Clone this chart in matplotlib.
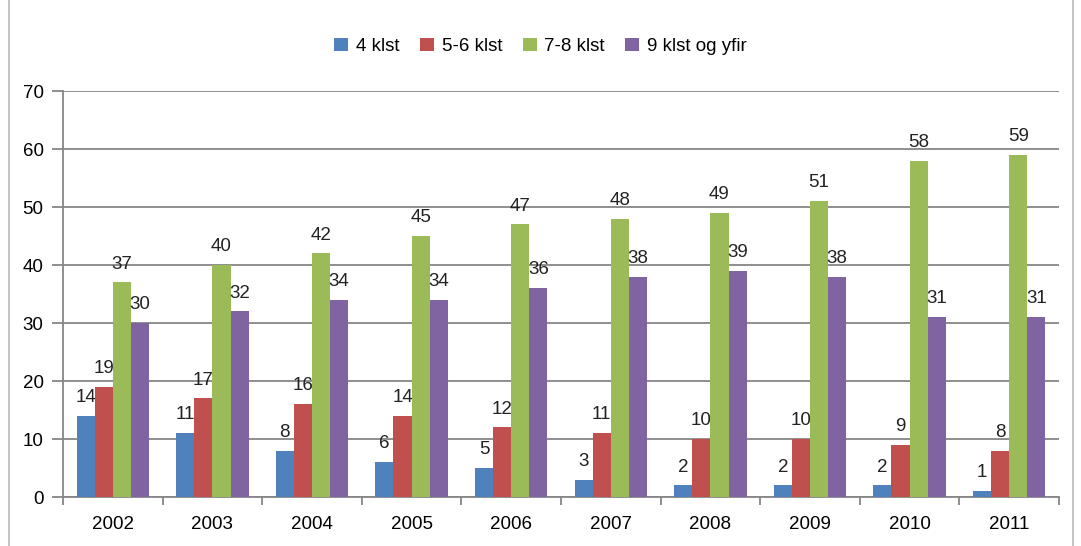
import matplotlib.pyplot as plt
import numpy as np

years = ['2002', '2003', '2004', '2005', '2006', '2007', '2008', '2009', '2010', '2011']
klst_4 = [14, 11, 8, 6, 5, 3, 2, 2, 2, 1]
klst_56 = [19, 17, 16, 14, 12, 11, 10, 10, 9, 8]
klst_78 = [37, 40, 42, 45, 47, 48, 49, 51, 58, 59]
klst_9 = [30, 32, 34, 34, 36, 38, 39, 38, 31, 31]
series_names = ['4 klst', '5-6 klst', '7-8 klst', '9 klst og yfir']

plt.rcParams['font.family'] = ['Liberation Sans', 'DejaVu Sans']
colors = ['#4F81BD', '#C0504D', '#9BBB59', '#8064A2']
grey = '#868686'

fig = plt.figure(figsize=(10.81, 5.46), dpi=100)
ax = fig.add_axes([63 / 1081, 1 - 497 / 546, (1059 - 63) / 1081, (497 - 91) / 546])

pos = np.arange(len(years))
width = 0.182
allvals = [klst_4, klst_56, klst_78, klst_9]
for i, (vals, name) in enumerate(zip(allvals, series_names)):
    x = pos + (i - 1.5) * width
    bars = ax.bar(x, vals, width, color=colors[i], label=name, zorder=3)
    for rect, v in zip(bars, vals):
        ax.annotate('%d' % v, (rect.get_x() + rect.get_width() / 2, rect.get_height()),
                    xytext=(0, 7), textcoords='offset points',
                    ha='center', va='bottom', fontsize=13.5, color='#222222')

ax.set_xlim(-0.5, len(years) - 0.5)
ax.set_ylim(0, 70)
ax.set_yticks(range(0, 71, 10))
ax.yaxis.grid(True, color=grey, linewidth=1.3, zorder=0)
ax.set_xticks(pos)
ax.set_xticklabels(years)
ax.set_xticks(np.arange(-0.5, len(years)), minor=True)
ax.tick_params(axis='x', which='major', length=0, pad=14, labelsize=13.5)
ax.tick_params(axis='x', which='minor', length=6, color=grey, width=1.3)
ax.tick_params(axis='y', length=8, color=grey, width=1.3, labelsize=13.5, pad=6)
for s in ['top', 'right']:
    ax.spines[s].set_visible(False)
for s in ['left', 'bottom']:
    ax.spines[s].set_color(grey)
    ax.spines[s].set_linewidth(1.3)

fig.legend(loc='upper center', bbox_to_anchor=(0.5, 0.962), ncol=4, frameon=False,
           fontsize=13.5, handlelength=0.75, handleheight=0.75, handletextpad=0.4,
           columnspacing=1.1)

# outer frame lines
fig.add_artist(plt.Line2D([9 / 1081, 9 / 1081], [0, 1], color='#BFBFBF', lw=1.3))
fig.add_artist(plt.Line2D([1073 / 1081, 1073 / 1081], [0, 1], color='#BFBFBF', lw=1.3))

fig.savefig('out.png', dpi=100)
